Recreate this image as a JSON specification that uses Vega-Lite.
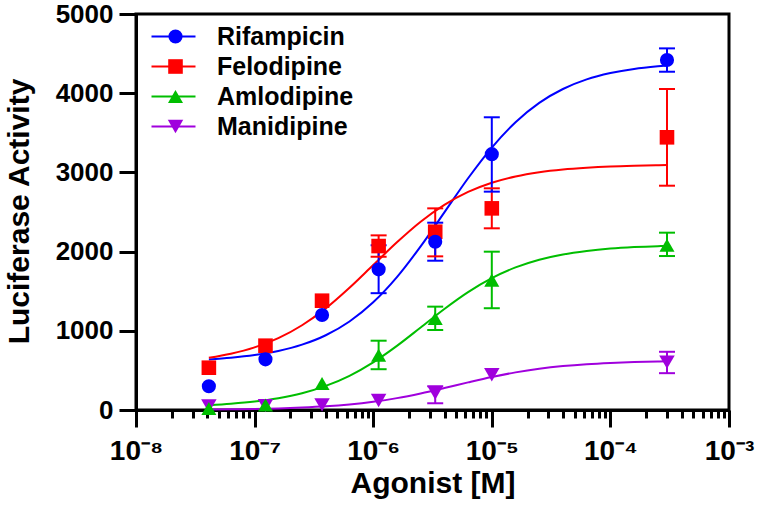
{
  "$schema": "https://vega.github.io/schema/vega-lite/v6.json",
  "width": 593,
  "height": 396,
  "autosize": {"type": "none"},
  "padding": {"left": 136, "top": 14, "right": 30, "bottom": 110},
  "config": {
    "font": "Liberation Sans",
    "view": {"stroke": "#000000", "strokeWidth": 3},
    "axis": {"grid": false, "domainColor": "#000000", "domainWidth": 3, "tickColor": "#000000", "tickWidth": 3, "labelColor": "#000000", "labelFont": "Liberation Sans", "labelFontWeight": "bold", "titleFont": "Liberation Sans", "titleFontWeight": "bold", "titleColor": "#000000"},
    "legend": {"labelFont": "Liberation Sans", "labelFontWeight": "bold", "labelFontSize": 25, "labelColor": "#000000"}
  },
  "datasets": {
    "curves": [
      {"s":"Rifampicin","c":4.115e-8,"v":638},{"s":"Rifampicin","c":6.31e-8,"v":659},{"s":"Rifampicin","c":1e-7,"v":693},{"s":"Rifampicin","c":1.585e-7,"v":745},{"s":"Rifampicin","c":2.512e-7,"v":825},{"s":"Rifampicin","c":3.981e-7,"v":944},{"s":"Rifampicin","c":6.31e-7,"v":1118},{"s":"Rifampicin","c":1e-6,"v":1360},{"s":"Rifampicin","c":1.585e-6,"v":1678},{"s":"Rifampicin","c":2.512e-6,"v":2066},{"s":"Rifampicin","c":3.981e-6,"v":2495},{"s":"Rifampicin","c":6.31e-6,"v":2926},{"s":"Rifampicin","c":1e-5,"v":3314},{"s":"Rifampicin","c":1.585e-5,"v":3634},{"s":"Rifampicin","c":2.512e-5,"v":3878},{"s":"Rifampicin","c":3.981e-5,"v":4053},{"s":"Rifampicin","c":6.31e-5,"v":4174},{"s":"Rifampicin","c":1e-4,"v":4254},{"s":"Rifampicin","c":1.585e-4,"v":4307},{"s":"Rifampicin","c":2.512e-4,"v":4340},{"s":"Rifampicin","c":3e-4,"v":4350},
      {"s":"Felodipine","c":4.115e-8,"v":660},{"s":"Felodipine","c":6.31e-8,"v":711},{"s":"Felodipine","c":1e-7,"v":791},{"s":"Felodipine","c":1.585e-7,"v":907},{"s":"Felodipine","c":2.512e-7,"v":1070},{"s":"Felodipine","c":3.981e-7,"v":1283},{"s":"Felodipine","c":6.31e-7,"v":1543},{"s":"Felodipine","c":1e-6,"v":1830},{"s":"Felodipine","c":1.585e-6,"v":2117},{"s":"Felodipine","c":2.512e-6,"v":2377},{"s":"Felodipine","c":3.981e-6,"v":2590},{"s":"Felodipine","c":6.31e-6,"v":2753},{"s":"Felodipine","c":1e-5,"v":2869},{"s":"Felodipine","c":1.585e-5,"v":2949},{"s":"Felodipine","c":2.512e-5,"v":3003},{"s":"Felodipine","c":3.981e-5,"v":3038},{"s":"Felodipine","c":6.31e-5,"v":3060},{"s":"Felodipine","c":1e-4,"v":3075},{"s":"Felodipine","c":1.585e-4,"v":3084},{"s":"Felodipine","c":2.512e-4,"v":3090},{"s":"Felodipine","c":3e-4,"v":3092},
      {"s":"Amlodipine","c":4.115e-8,"v":61},{"s":"Amlodipine","c":6.31e-8,"v":79},{"s":"Amlodipine","c":1e-7,"v":106},{"s":"Amlodipine","c":1.585e-7,"v":148},{"s":"Amlodipine","c":2.512e-7,"v":211},{"s":"Amlodipine","c":3.981e-7,"v":304},{"s":"Amlodipine","c":6.31e-7,"v":432},{"s":"Amlodipine","c":1e-6,"v":602},{"s":"Amlodipine","c":1.585e-6,"v":810},{"s":"Amlodipine","c":2.512e-6,"v":1042},{"s":"Amlodipine","c":3.981e-6,"v":1276},{"s":"Amlodipine","c":6.31e-6,"v":1489},{"s":"Amlodipine","c":1e-5,"v":1665},{"s":"Amlodipine","c":1.585e-5,"v":1800},{"s":"Amlodipine","c":2.512e-5,"v":1897},{"s":"Amlodipine","c":3.981e-5,"v":1964},{"s":"Amlodipine","c":6.31e-5,"v":2008},{"s":"Amlodipine","c":1e-4,"v":2038},{"s":"Amlodipine","c":1.585e-4,"v":2057},{"s":"Amlodipine","c":2.512e-4,"v":2069},{"s":"Amlodipine","c":3e-4,"v":2072},
      {"s":"Manidipine","c":4.115e-8,"v":5},{"s":"Manidipine","c":6.31e-8,"v":8},{"s":"Manidipine","c":1e-7,"v":12},{"s":"Manidipine","c":1.585e-7,"v":19},{"s":"Manidipine","c":2.512e-7,"v":30},{"s":"Manidipine","c":3.981e-7,"v":46},{"s":"Manidipine","c":6.31e-7,"v":70},{"s":"Manidipine","c":1e-6,"v":104},{"s":"Manidipine","c":1.585e-6,"v":150},{"s":"Manidipine","c":2.512e-6,"v":209},{"s":"Manidipine","c":3.981e-6,"v":277},{"s":"Manidipine","c":6.31e-6,"v":349},{"s":"Manidipine","c":1e-5,"v":417},{"s":"Manidipine","c":1.585e-5,"v":475},{"s":"Manidipine","c":2.512e-5,"v":521},{"s":"Manidipine","c":3.981e-5,"v":555},{"s":"Manidipine","c":6.31e-5,"v":579},{"s":"Manidipine","c":1e-4,"v":595},{"s":"Manidipine","c":1.585e-4,"v":606},{"s":"Manidipine","c":2.512e-4,"v":613},{"s":"Manidipine","c":3e-4,"v":615}
    ],
    "points": [
      {"s":"Manidipine","c":4.115e-8,"v":50},
      {"s":"Manidipine","c":1.235e-7,"v":55},
      {"s":"Manidipine","c":3.704e-7,"v":65},
      {"s":"Manidipine","c":1.111e-6,"v":120},
      {"s":"Manidipine","c":3.333e-6,"v":215,"lo":85,"hi":300},
      {"s":"Manidipine","c":1e-5,"v":445},
      {"s":"Manidipine","c":3e-4,"v":605,"lo":465,"hi":735},
      {"s":"Amlodipine","c":4.115e-8,"v":20},
      {"s":"Amlodipine","c":1.235e-7,"v":63},
      {"s":"Amlodipine","c":3.704e-7,"v":335},
      {"s":"Amlodipine","c":1.111e-6,"v":690,"lo":515,"hi":875},
      {"s":"Amlodipine","c":3.333e-6,"v":1155,"lo":1010,"hi":1305},
      {"s":"Amlodipine","c":1e-5,"v":1640,"lo":1285,"hi":1999},
      {"s":"Amlodipine","c":3e-4,"v":2080,"lo":1944,"hi":2239},
      {"s":"Felodipine","c":4.115e-8,"v":534},
      {"s":"Felodipine","c":1.235e-7,"v":812},
      {"s":"Felodipine","c":3.704e-7,"v":1380},
      {"s":"Felodipine","c":1.111e-6,"v":2070,"lo":1935,"hi":2205},
      {"s":"Felodipine","c":3.333e-6,"v":2251,"lo":1940,"hi":2546},
      {"s":"Felodipine","c":1e-5,"v":2546,"lo":2294,"hi":2799},
      {"s":"Felodipine","c":3e-4,"v":3443,"lo":2832,"hi":4053},
      {"s":"Rifampicin","c":4.115e-8,"v":300},
      {"s":"Rifampicin","c":1.235e-7,"v":640},
      {"s":"Rifampicin","c":3.704e-7,"v":1200},
      {"s":"Rifampicin","c":1.111e-6,"v":1776,"lo":1475,"hi":2080},
      {"s":"Rifampicin","c":3.333e-6,"v":2125,"lo":1885,"hi":2365},
      {"s":"Rifampicin","c":1e-5,"v":3230,"lo":2757,"hi":3696},
      {"s":"Rifampicin","c":3e-4,"v":4419,"lo":4271,"hi":4566}
    ]
  },
  "resolve": {"axis": {"x": "independent"}},
  "layer": [
    {
      "data": {"name": "curves"},
      "mark": {"type": "line", "interpolate": "monotone", "strokeWidth": 2},
      "encoding": {
        "x": {"field": "c", "type": "quantitative",
          "scale": {"type": "log", "domain": [1e-8, 1e-3], "nice": false},
          "axis": {"orient": "bottom", "values": [1e-8, 1e-7, 1e-6, 1e-5, 1e-4, 1e-3], "tickSize": 17, "labelFontSize": 28, "labelPadding": 10, "labelFlush": false, "labelOverlap": false,
            "labelExpr": "['10⁻⁸','10⁻⁷','10⁻⁶','10⁻⁵','10⁻⁴','10⁻³'][round(log(datum.value)/LN10)+8]",
            "title": "Agonist [M]", "titleFontSize": 30, "titleBaseline": "alphabetic", "titleY": 82}},
        "y": {"field": "v", "type": "quantitative",
          "scale": {"domain": [0, 5000], "nice": false},
          "axis": {"values": [0, 1000, 2000, 3000, 4000, 5000], "format": "d", "tickSize": 17, "labelFontSize": 26, "labelPadding": 6,
            "title": "Luciferase Activity", "titleFontSize": 30, "titleBaseline": "alphabetic", "titleX": -108, "titleY": 197}},
        "stroke": {"field": "s", "type": "nominal",
          "scale": {"domain": ["Rifampicin", "Felodipine", "Amlodipine", "Manidipine", "-"], "range": ["#0000FF", "#FF0000", "#00BE00", "#A000DD", "#000000"]},
          "legend": {"orient": "none", "legendX": 25, "legendY": 10, "title": null, "padding": 0,
            "values": ["Rifampicin", "Felodipine", "Amlodipine", "Manidipine"],
            "symbolType": "M-2.2,0H2.2", "symbolSize": 400, "symbolStrokeWidth": 2, "rowPadding": 4, "labelOffset": 31}}
      }
    },
    {
      "data": {"name": "points"},
      "transform": [{"filter": "isValid(datum.hi)"}],
      "mark": {"type": "rule", "strokeWidth": 2},
      "encoding": {
        "x": {"field": "c", "type": "quantitative",
          "scale": {"type": "log", "domain": [1e-8, 1e-3], "nice": false},
          "axis": {"orient": "bottom", "values": [2e-8,3e-8,4e-8,5e-8,6e-8,7e-8,8e-8,9e-8,2e-7,3e-7,4e-7,5e-7,6e-7,7e-7,8e-7,9e-7,2e-6,3e-6,4e-6,5e-6,6e-6,7e-6,8e-6,9e-6,2e-5,3e-5,4e-5,5e-5,6e-5,7e-5,8e-5,9e-5,2e-4,3e-4,4e-4,5e-4,6e-4,7e-4,8e-4,9e-4],
            "tickSize": 8, "labels": false, "domain": false, "title": null}},
        "y": {"field": "lo", "type": "quantitative", "scale": {"domain": [0, 5000], "nice": false},
          "axis": {"values": [0, 1000, 2000, 3000, 4000, 5000], "format": "d", "tickSize": 17, "labelFontSize": 26, "labelPadding": 6,
            "title": "Luciferase Activity", "titleFontSize": 30, "titleBaseline": "alphabetic", "titleX": -108, "titleY": 197}},
        "y2": {"field": "hi"},
        "stroke": {"field": "s", "type": "nominal"}
      }
    },
    {
      "data": {"name": "points"},
      "transform": [{"filter": "isValid(datum.hi)"}],
      "mark": {"type": "tick", "orient": "horizontal", "size": 16, "thickness": 2, "opacity": 1},
      "encoding": {
        "x": {"field": "c", "type": "quantitative", "scale": {"type": "log", "domain": [1e-8, 1e-3], "nice": false}, "axis": null},
        "y": {"field": "lo", "type": "quantitative", "scale": {"domain": [0, 5000], "nice": false},
          "axis": {"values": [0, 1000, 2000, 3000, 4000, 5000], "format": "d", "tickSize": 17, "labelFontSize": 26, "labelPadding": 6,
            "title": "Luciferase Activity", "titleFontSize": 30, "titleBaseline": "alphabetic", "titleX": -108, "titleY": 197}},
        "fill": {"field": "s", "type": "nominal"}
      }
    },
    {
      "data": {"name": "points"},
      "transform": [{"filter": "isValid(datum.hi)"}],
      "mark": {"type": "tick", "orient": "horizontal", "size": 16, "thickness": 2, "opacity": 1},
      "encoding": {
        "x": {"field": "c", "type": "quantitative", "scale": {"type": "log", "domain": [1e-8, 1e-3], "nice": false}, "axis": null},
        "y": {"field": "hi", "type": "quantitative", "scale": {"domain": [0, 5000], "nice": false},
          "axis": {"values": [0, 1000, 2000, 3000, 4000, 5000], "format": "d", "tickSize": 17, "labelFontSize": 26, "labelPadding": 6,
            "title": "Luciferase Activity", "titleFontSize": 30, "titleBaseline": "alphabetic", "titleX": -108, "titleY": 197}},
        "fill": {"field": "s", "type": "nominal"}
      }
    },
    {
      "data": {"name": "points"},
      "mark": {"type": "point", "filled": true, "opacity": 1},
      "encoding": {
        "x": {"field": "c", "type": "quantitative", "scale": {"type": "log", "domain": [1e-8, 1e-3], "nice": false}, "axis": null},
        "y": {"field": "v", "type": "quantitative", "scale": {"domain": [0, 5000], "nice": false},
          "axis": {"values": [0, 1000, 2000, 3000, 4000, 5000], "format": "d", "tickSize": 17, "labelFontSize": 26, "labelPadding": 6,
            "title": "Luciferase Activity", "titleFontSize": 30, "titleBaseline": "alphabetic", "titleX": -108, "titleY": 197}},
        "shape": {"field": "s", "type": "nominal",
          "scale": {"domain": ["Rifampicin", "Felodipine", "Amlodipine", "Manidipine"], "range": ["circle", "square", "triangle-up", "triangle-down"]}},
        "size": {"field": "s", "type": "ordinal",
          "scale": {"domain": ["Rifampicin", "Felodipine", "Amlodipine", "Manidipine"], "range": [200, 240, 270, 270]}},
        "fill": {"field": "s", "type": "nominal",
          "scale": {"domain": ["Rifampicin", "Felodipine", "Amlodipine", "Manidipine"], "range": ["#0000FF", "#FF0000", "#00BE00", "#A000DD"]},
          "legend": {"orient": "none", "legendX": 27, "legendY": 10, "title": null, "padding": 0,
            "rowPadding": 4, "labelOffset": 31, "labelExpr": "''", "symbolOpacity": 1, "symbolStrokeWidth": 0}}
      }
    }
  ]
}
